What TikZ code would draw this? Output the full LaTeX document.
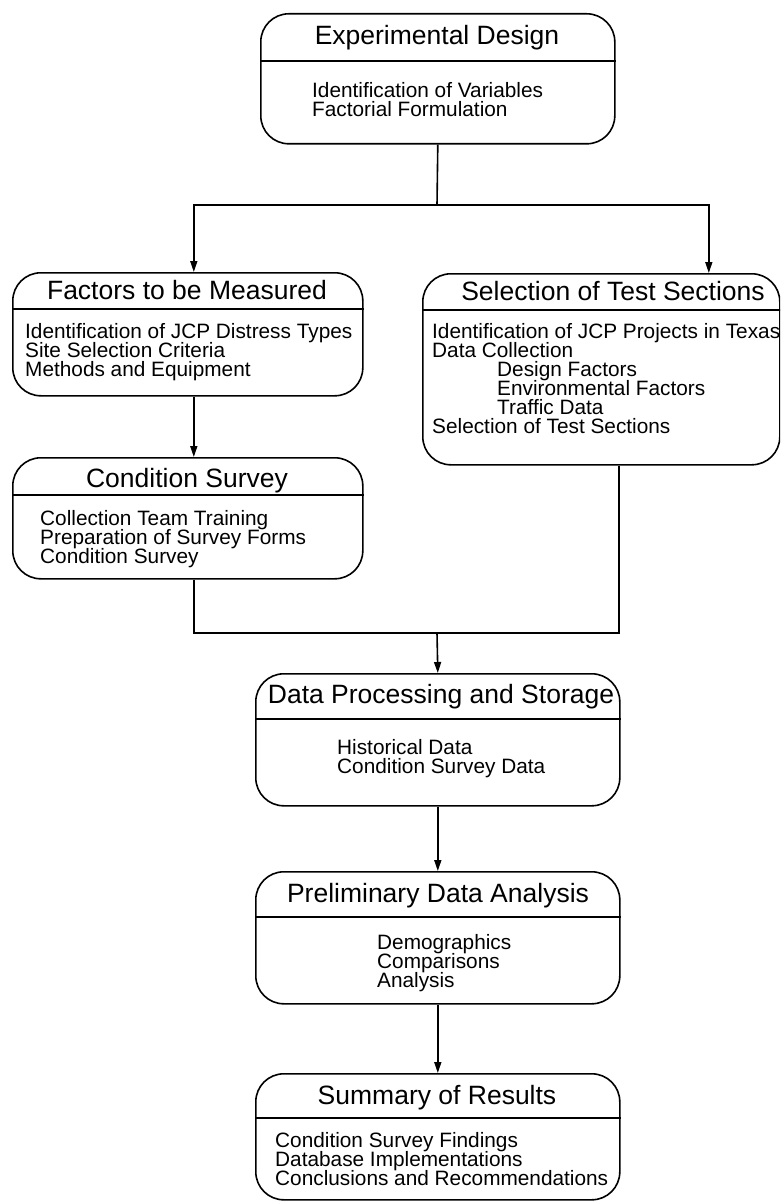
\documentclass[tikz,border=0pt]{standalone}
\usepackage{fontspec}
\setmainfont{Liberation Sans}
\usetikzlibrary{arrows.meta}
\newcommand\myitemfont{\fontsize{20.8}{19}\selectfont\lineskiplimit=-100pt\relax\lineskip=0pt\relax}
\newcommand\mytitlefont{\fontsize{26.5}{30}\selectfont}
\begin{document}
\begin{tikzpicture}[x=1pt,y=-1pt,
  ln/.style={line width=1.6pt},
  arr/.style={line width=1.6pt,-{Triangle[length=11pt,width=7pt]}},
  box/.style={draw,line width=1.6pt,rounded corners=28pt,inner sep=0pt,anchor=north west},
  ttl/.style={font=\mytitlefont,inner sep=0pt,anchor=base},
  itm/.style={font=\myitemfont,inner sep=0pt,anchor=base west}]
\clip (0,0) rectangle (780,1201);
% boxes
\node[box,minimum width=354pt,minimum height=130pt] (ed) at (260,13) {};
\node[box,minimum width=350pt,minimum height=123pt] (fm) at (12,272) {};
\node[box,minimum width=357pt,minimum height=191pt] (sel) at (422,273) {};
\node[box,minimum width=350pt,minimum height=121pt] (cs) at (12,457) {};
\node[box,minimum width=364pt,minimum height=132pt] (dp) at (255,673) {};
\node[box,minimum width=364pt,minimum height=132pt] (pa) at (255,871) {};
\node[box,minimum width=364pt,minimum height=126pt] (sr) at (255,1073) {};
% dividers
\draw[ln] (ed.west |- 0,61) -- (ed.east |- 0,61);
\draw[ln] (fm.west |- 0,309) -- (fm.east |- 0,309);
\draw[ln] (sel.west |- 0,310) -- (sel.east |- 0,310);
\draw[ln] (cs.west |- 0,495) -- (cs.east |- 0,495);
\draw[ln] (dp.west |- 0,719) -- (dp.east |- 0,719);
\draw[ln] (pa.west |- 0,917) -- (pa.east |- 0,917);
\draw[ln] (sr.west |- 0,1118) -- (sr.east |- 0,1118);
% titles
\node[ttl] (edT) at (437,45) {Experimental Design};
\node[ttl] (fmT) at (187,299) {Factors to be Measured};
\node[ttl] (selT) at (613,300) {Selection of Test Sections};
\node[ttl] (csT) at (187,487) {Condition Survey};
\node[ttl] (dpT) at (441,703) {Data Processing and Storage};
\node[ttl] (paT) at (438,902) {Preliminary Data Analysis};
\node[ttl] (srT) at (437,1104) {Summary of Results};
% items
\node[itm] (edI) at (312,98) {\vtop{\hbox{Identification of Variables}\hbox{Factorial Formulation}}};
\node[itm] (fmI) at (25,338) {\vtop{\hbox{Identification of JCP Distress Types}\hbox{Site Selection Criteria}\hbox{Methods and Equipment}}};
\node[itm] (selI) at (432,338) {\vtop{\hbox{Identification of JCP Projects in Texas}\hbox{Data Collection}\hbox{\kern65pt Design Factors}\hbox{\kern65pt Environmental Factors}\hbox{\kern65pt Traffic Data}\hbox{Selection of Test Sections}}};
\node[itm] (csI) at (40,525) {\vtop{\hbox{Collection Team Training}\hbox{Preparation of Survey Forms}\hbox{Condition Survey}}};
\node[itm] (dpI) at (337,754) {\vtop{\hbox{Historical Data}\hbox{Condition Survey Data}}};
\node[itm] (paI) at (377,949) {\vtop{\hbox{Demographics}\hbox{Comparisons}\hbox{Analysis}}};
\node[itm] (srI) at (275,1147) {\vtop{\hbox{Condition Survey Findings}\hbox{Database Implementations}\hbox{Conclusions and Recommendations}}};
% connectors
\coordinate (j1) at (437,205);
\coordinate (j2) at (437,633);
\draw[ln] (ed.south) -- (j1);
\draw[arr] (j1) -| ([xshift=6pt]fm.north);
\draw[arr] (j1) -| ([xshift=107.5pt]sel.north);
\draw[arr] ([xshift=6pt]fm.south) -- ([xshift=6pt]cs.north);
\draw[ln] ([xshift=6pt]cs.south) |- (j2) -| ([xshift=17.5pt]sel.south);
\draw[arr] (j2) -- (dp.north);
\draw[arr] (dp.south) -- (pa.north);
\draw[arr] (pa.south) -- (sr.north);
\end{tikzpicture}
\end{document}
